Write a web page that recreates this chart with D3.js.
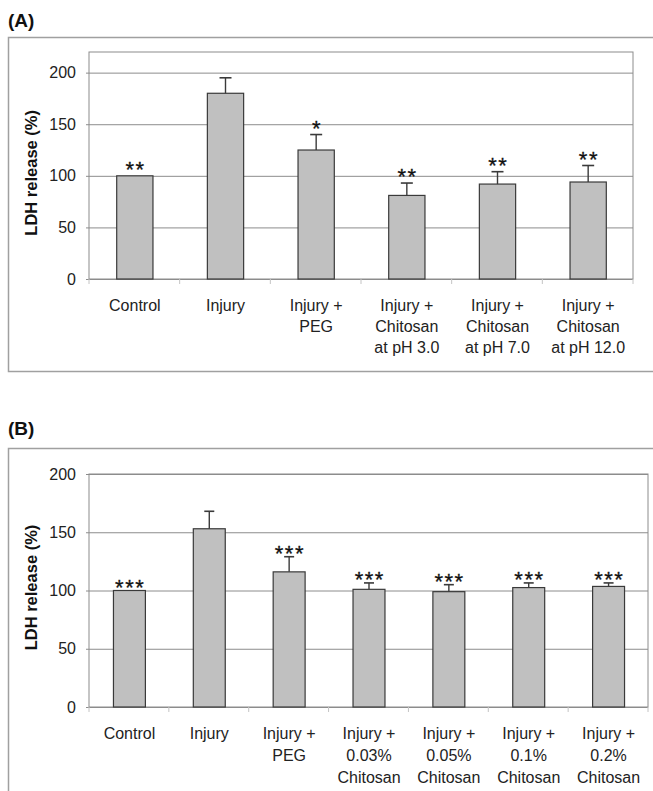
<!DOCTYPE html>
<html>
<head>
<meta charset="utf-8">
<script src="https://cdn.jsdelivr.net/npm/d3@7"></script>
<style>
  html, body { margin: 0; padding: 0; background: #fff; }
  svg { display: block; }
  text { font-family: Arial, "Liberation Sans", sans-serif; }
</style>
</head>
<body>
<svg id="chart" width="653" height="791"></svg>
<script>
// ---- Data ----
const categoriesA = [
  ["Control"], ["Injury"], ["Injury +", "PEG"],
  ["Injury +", "Chitosan", "at pH 3.0"],
  ["Injury +", "Chitosan", "at pH 7.0"],
  ["Injury +", "Chitosan", "at pH 12.0"]
];
const valuesA = [100, 180, 125, 81, 92, 94];
const errorsA = [0, 15, 15, 12, 12, 16];
const signifA = ["**", "", "*", "**", "**", "**"];

const categoriesB = [
  ["Control"], ["Injury"], ["Injury +", "PEG"],
  ["Injury +", "0.03%", "Chitosan"],
  ["Injury +", "0.05%", "Chitosan"],
  ["Injury +", "0.1%", "Chitosan"],
  ["Injury +", "0.2%", "Chitosan"]
];
const valuesB = [100, 153, 116, 101, 99, 102.5, 103.5];
const errorsB = [0, 15, 13, 5.5, 6, 4, 3];
const signifB = ["***", "", "***", "***", "***", "***", "***"];

const yTicks = [0, 50, 100, 150, 200];
const yTitle = "LDH release (%)";

const svg = d3.select("#chart");

function panel(cfg) {
  const g = svg.append("g");
  // panel letter
  g.append("text").attr("x", 8).attr("y", cfg.letterY)
    .attr("font-size", 19).attr("font-weight", "bold").attr("fill", "#111")
    .text(cfg.letter);
  // outer frame
  g.append("rect").attr("x", 8.5).attr("y", cfg.boxTop + 0.5)
    .attr("width", 700).attr("height", cfg.boxH)
    .attr("fill", "none").attr("stroke", "#a0a0a0").attr("stroke-width", 1.5);

  const x = d3.scaleBand().domain(d3.range(cfg.cats.length))
    .range([cfg.left, cfg.right]).paddingInner(0.6).paddingOuter(0.3);
  const y = d3.scaleLinear().domain([0, cfg.yMax]).range([cfg.y0, cfg.yTop]);

  // plot area border
  g.append("rect").attr("x", cfg.left).attr("y", y(cfg.yMax))
    .attr("width", cfg.right - cfg.left).attr("height", y(0) - y(cfg.yMax))
    .attr("fill", "#fff").attr("stroke", "#8c8c8c").attr("stroke-width", 1);

  // gridlines + y labels
  const ax = g.append("g").attr("transform", `translate(${cfg.left},0)`)
    .call(d3.axisLeft(y).tickValues(yTicks).tickSize(-(cfg.right - cfg.left)).tickSizeOuter(0).tickPadding(13));
  ax.select(".domain").remove();
  ax.selectAll(".tick line").attr("stroke", "#8c8c8c").attr("x1", -3);
  ax.selectAll(".tick text").attr("font-size", 16).attr("fill", "#222")
    .attr("font-family", "Arial, 'Liberation Sans', sans-serif");

  // x axis ticks at band boundaries
  const step = x.step();
  const bounds = d3.range(cfg.cats.length + 1).map(i => cfg.left + i * step);
  g.selectAll(".xt").data(bounds).join("line")
    .attr("x1", d => d).attr("x2", d => d)
    .attr("y1", y(0)).attr("y2", y(0) + 5)
    .attr("stroke", "#c4c4c4");

  // bars
  g.selectAll(".bar").data(cfg.vals).join("rect")
    .attr("x", (d, i) => x(i) + 0.5).attr("y", d => y(d))
    .attr("width", x.bandwidth()).attr("height", d => y(0) - y(d))
    .attr("fill", "#c0c0c0").attr("stroke", "#3a3a3a").attr("stroke-width", 1.2);

  // error bars
  cfg.vals.forEach((v, i) => {
    const e = cfg.errs[i];
    if (!e) return;
    const cx = x(i) + x.bandwidth() / 2 + 0.5;
    g.append("line").attr("x1", cx).attr("x2", cx).attr("y1", y(v)).attr("y2", y(v + e))
      .attr("stroke", "#3a3a3a").attr("stroke-width", 1.4);
    g.append("line").attr("x1", cx - cfg.cap / 2).attr("x2", cx + cfg.cap / 2)
      .attr("y1", y(v + e)).attr("y2", y(v + e))
      .attr("stroke", "#3a3a3a").attr("stroke-width", 1.6);
  });

  // significance stars
  cfg.vals.forEach((v, i) => {
    if (!cfg.sig[i]) return;
    const cx = x(i) + x.bandwidth() / 2 + 0.5;
    g.append("text").attr("x", cx + 0.75).attr("y", y(v + cfg.errs[i]) - cfg.starGap + 12)
      .attr("text-anchor", "middle").attr("font-size", 22).attr("letter-spacing", 1.5)
      .attr("fill", "#111").attr("stroke", "#111").attr("stroke-width", 0.3)
      .text(cfg.sig[i]);
  });

  // x labels
  cfg.cats.forEach((lines, i) => {
    const cx = x(i) + x.bandwidth() / 2 + 0.5;
    lines.forEach((t, j) => {
      g.append("text").attr("x", cx).attr("y", y(0) + 32 + j * cfg.lineH)
        .attr("text-anchor", "middle").attr("font-size", 16).attr("fill", "#222").text(t);
    });
  });

  // y title
  const ym = (y(0) + y(200)) / 2 - 3;
  g.append("text").attr("transform", `translate(37,${ym}) rotate(-90)`)
    .attr("text-anchor", "middle").attr("font-size", 16.5).attr("font-weight", "bold")
    .attr("fill", "#111").text(yTitle);
}

panel({
  letter: "(A)", letterY: 27, boxTop: 37, boxH: 334,
  cats: categoriesA, vals: valuesA, errs: errorsA, sig: signifA,
  left: 89, right: 633, y0: 279, yTop: 52, yMax: 220,
  cap: 12, starGap: 11, lineH: 21
});

panel({
  letter: "(B)", letterY: 435, boxTop: 448, boxH: 400,
  cats: categoriesB, vals: valuesB, errs: errorsB, sig: signifB,
  left: 89, right: 648, y0: 707, yTop: 474, yMax: 200,
  cap: 10, starGap: 8, lineH: 22
});
</script>
</body>
</html>
